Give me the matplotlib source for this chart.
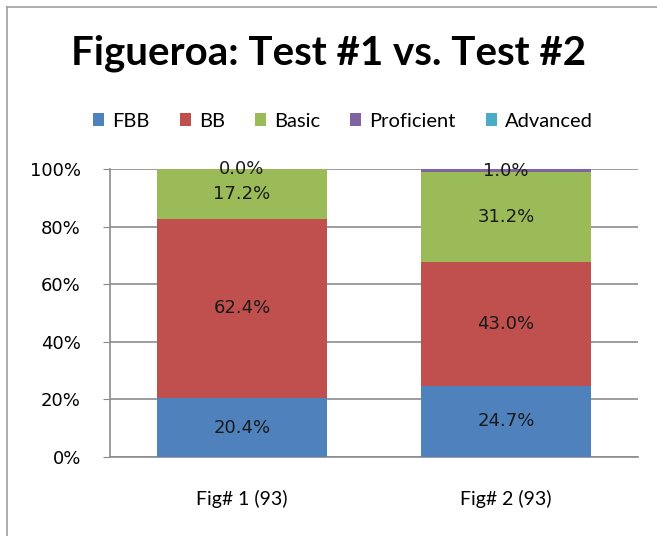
import numpy as np
import matplotlib.pyplot as plt
from matplotlib.lines import Line2D

categories = ["Fig# 1 (93)", "Fig# 2 (93)"]
levels = ["FBB", "BB", "Basic", "Proficient", "Advanced"]
fbb = [20.4, 24.7]
bb = [62.4, 43.0]
basic = [17.2, 31.2]
proficient = [0.0, 1.0]
advanced = [0.0, 0.0]
colors = ["#4F81BD", "#C0504D", "#9BBB59", "#8064A2", "#4BACC6"]

series = [fbb, bb, basic, proficient, advanced]

fig = plt.figure(figsize=(6.57, 5.36), dpi=100)
ax = fig.add_axes([0.1674, 0.1474, 0.8036, 0.5373])

x = np.arange(len(categories))
bottom = np.zeros(len(categories))
for name, vals, c in zip(levels, series, colors):
    vals = np.array(vals)
    ax.bar(x, vals, 0.645, bottom=bottom, color=c, label=name, zorder=3)
    if name != "Advanced":
        for xi, v, b in zip(x, vals, bottom):
            ax.text(xi, b + v / 2, f"{v:.1f}%", ha="center", va="center",
                    fontsize=13, color="#1a1a1a", zorder=4)
    bottom += vals

ax.set_xlim(-0.5, 1.5)
ax.set_ylim(0, 100)
ax.set_yticks(np.arange(0, 101, 20))
ax.set_yticklabels([f"{t}%" for t in range(0, 101, 20)], fontsize=13)
ax.set_xticks(x)
ax.set_xticklabels(categories, fontfamily="Lato", fontsize=14)
ax.tick_params(axis="y", length=5, color="#888888", pad=16)
ax.tick_params(axis="x", length=0, pad=24)
ax.yaxis.grid(True, color="#8c8c8c", linewidth=1.2, zorder=0)
for s in ["top", "right"]:
    ax.spines[s].set_visible(False)
ax.spines["left"].set_color("#8c8c8c")
ax.spines["bottom"].set_color("#8c8c8c")
ax.spines["left"].set_linewidth(1.2)
ax.spines["bottom"].set_linewidth(1.2)

fig.text(0.5, 0.900, "Figueroa: Test #1 vs. Test #2", ha="center", va="center",
         fontfamily="Lato", fontweight="bold", fontsize=29)

fig.legend(loc="center", bbox_to_anchor=(0.522, 0.774), ncol=5, frameon=False,
           prop={"family": "Lato", "size": 14.5}, handlelength=0.55, handleheight=0.55,
           handletextpad=0.4, columnspacing=1.5)

# outer chart frame (left and top edges)
fig.add_artist(Line2D([0.011, 0.011], [0.0, 0.987], color="#a0a0a0", lw=1.2,
                      transform=fig.transFigure))
fig.add_artist(Line2D([0.011, 1.0], [0.987, 0.987], color="#a0a0a0", lw=1.2,
                      transform=fig.transFigure))

fig.savefig("out.png", dpi=100)
